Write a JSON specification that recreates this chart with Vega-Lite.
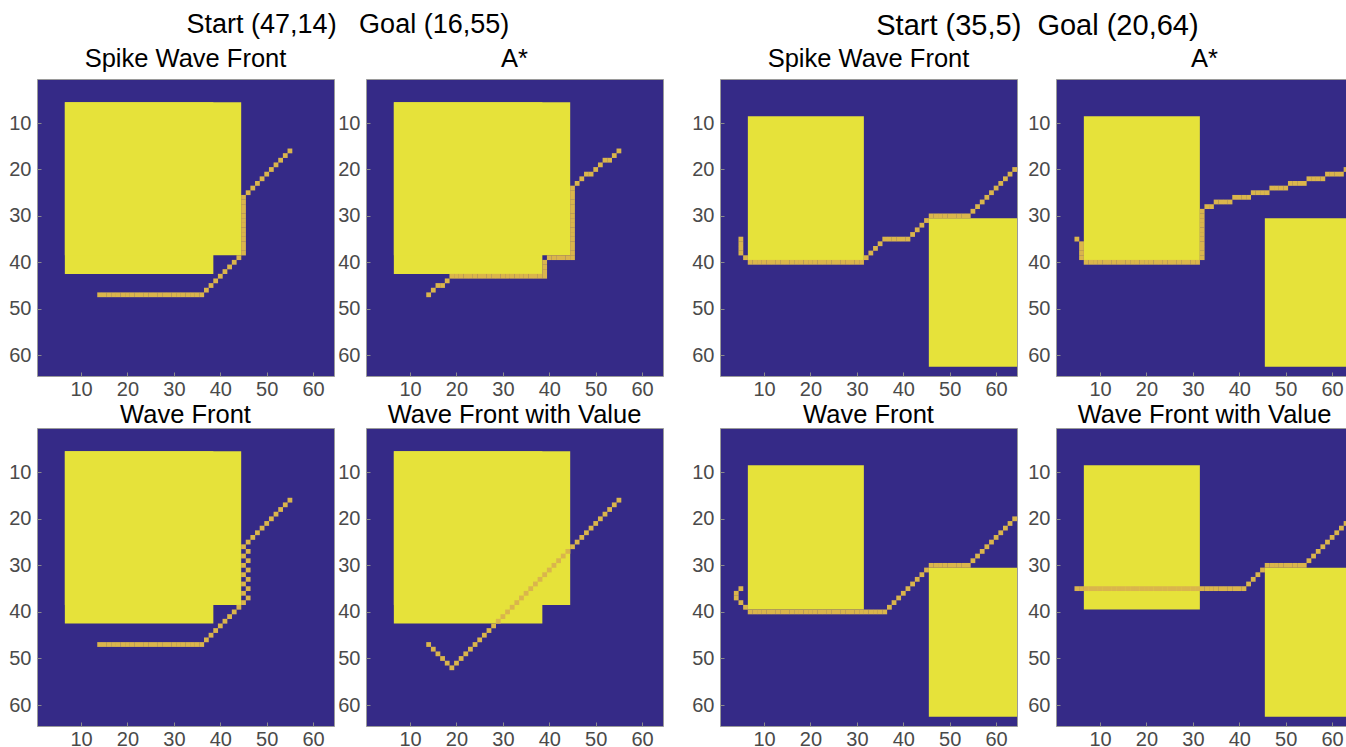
{
  "$schema": "https://vega.github.io/schema/vega-lite/v6.json",
  "padding": {"left": 8, "top": 11, "right": 0, "bottom": 0},
  "background": "white",
  "config": {
    "font": "Liberation Sans",
    "view": {"fill": "#352a87", "stroke": "#9a9a9a", "strokeWidth": 1},
    "axis": {"labelFont": "Liberation Sans", "labelFontSize": 20, "labelColor": "#4a4a4a", "domain": false, "grid": false, "ticks": true, "tickSize": -4, "tickColor": "#8a8a8a", "labelPadding": 10, "labelFlush": false},
    "axisX": {"labelPadding": 7},
    "title": {"font": "Liberation Sans", "fontSize": 25.5, "fontWeight": "normal", "color": "#000000"}
  },
  "datasets": {
    "obst": [
      {"p": "L1", "x0": 6.5, "x1": 38.5, "y0": 5.5, "y1": 42.5},
      {"p": "L1", "x0": 6.5, "x1": 44.5, "y0": 5.5, "y1": 38.5},
      {"p": "L2", "x0": 6.5, "x1": 38.5, "y0": 5.5, "y1": 42.5},
      {"p": "L2", "x0": 6.5, "x1": 44.5, "y0": 5.5, "y1": 38.5},
      {"p": "L3", "x0": 6.5, "x1": 38.5, "y0": 5.5, "y1": 42.5},
      {"p": "L3", "x0": 6.5, "x1": 44.5, "y0": 5.5, "y1": 38.5},
      {"p": "L4", "x0": 6.5, "x1": 38.5, "y0": 5.5, "y1": 42.5},
      {"p": "L4", "x0": 6.5, "x1": 44.5, "y0": 5.5, "y1": 38.5},
      {"p": "R1", "x0": 6.5, "x1": 31.5, "y0": 8.5, "y1": 39.5},
      {"p": "R1", "x0": 45.5, "x1": 64.5, "y0": 30.5, "y1": 62.5},
      {"p": "R2", "x0": 6.5, "x1": 31.5, "y0": 8.5, "y1": 39.5},
      {"p": "R2", "x0": 45.5, "x1": 64.5, "y0": 30.5, "y1": 62.5},
      {"p": "R3", "x0": 6.5, "x1": 31.5, "y0": 8.5, "y1": 39.5},
      {"p": "R3", "x0": 45.5, "x1": 64.5, "y0": 30.5, "y1": 62.5},
      {"p": "R4", "x0": 6.5, "x1": 31.5, "y0": 8.5, "y1": 39.5},
      {"p": "R4", "x0": 45.5, "x1": 64.5, "y0": 30.5, "y1": 62.5}
    ],
    "path": [
      {"p":"L1","r":47,"c":14},{"p":"L1","r":47,"c":15},{"p":"L1","r":47,"c":16},{"p":"L1","r":47,"c":17},{"p":"L1","r":47,"c":18},{"p":"L1","r":47,"c":19},{"p":"L1","r":47,"c":20},{"p":"L1","r":47,"c":21},{"p":"L1","r":47,"c":22},{"p":"L1","r":47,"c":23},{"p":"L1","r":47,"c":24},{"p":"L1","r":47,"c":25},{"p":"L1","r":47,"c":26},{"p":"L1","r":47,"c":27},{"p":"L1","r":47,"c":28},{"p":"L1","r":47,"c":29},{"p":"L1","r":47,"c":30},{"p":"L1","r":47,"c":31},{"p":"L1","r":47,"c":32},{"p":"L1","r":47,"c":33},{"p":"L1","r":47,"c":34},{"p":"L1","r":47,"c":35},{"p":"L1","r":47,"c":36},
      {"p":"L1","r":46,"c":37},{"p":"L1","r":45,"c":38},{"p":"L1","r":44,"c":39},{"p":"L1","r":43,"c":40},{"p":"L1","r":42,"c":41},{"p":"L1","r":41,"c":42},{"p":"L1","r":40,"c":43},{"p":"L1","r":39,"c":44},
      {"p":"L1","r":38,"c":45},{"p":"L1","r":37,"c":45},{"p":"L1","r":36,"c":45},{"p":"L1","r":35,"c":45},{"p":"L1","r":34,"c":45},{"p":"L1","r":33,"c":45},{"p":"L1","r":32,"c":45},{"p":"L1","r":31,"c":45},{"p":"L1","r":30,"c":45},{"p":"L1","r":29,"c":45},{"p":"L1","r":28,"c":45},{"p":"L1","r":27,"c":45},{"p":"L1","r":26,"c":45},
      {"p":"L1","r":25,"c":46},{"p":"L1","r":24,"c":47},{"p":"L1","r":23,"c":48},{"p":"L1","r":22,"c":49},{"p":"L1","r":21,"c":50},{"p":"L1","r":20,"c":51},{"p":"L1","r":19,"c":52},{"p":"L1","r":18,"c":53},{"p":"L1","r":17,"c":54},{"p":"L1","r":16,"c":55},

      {"p":"L2","r":47,"c":14},{"p":"L2","r":46,"c":15},{"p":"L2","r":45,"c":16},{"p":"L2","r":45,"c":17},{"p":"L2","r":44,"c":18},
      {"p":"L2","r":43,"c":19},{"p":"L2","r":43,"c":20},{"p":"L2","r":43,"c":21},{"p":"L2","r":43,"c":22},{"p":"L2","r":43,"c":23},{"p":"L2","r":43,"c":24},{"p":"L2","r":43,"c":25},{"p":"L2","r":43,"c":26},{"p":"L2","r":43,"c":27},{"p":"L2","r":43,"c":28},{"p":"L2","r":43,"c":29},{"p":"L2","r":43,"c":30},{"p":"L2","r":43,"c":31},{"p":"L2","r":43,"c":32},{"p":"L2","r":43,"c":33},{"p":"L2","r":43,"c":34},{"p":"L2","r":43,"c":35},{"p":"L2","r":43,"c":36},{"p":"L2","r":43,"c":37},{"p":"L2","r":43,"c":38},
      {"p":"L2","r":43,"c":39},{"p":"L2","r":42,"c":39},{"p":"L2","r":41,"c":39},{"p":"L2","r":40,"c":39},
      {"p":"L2","r":39,"c":40},{"p":"L2","r":39,"c":41},{"p":"L2","r":39,"c":42},{"p":"L2","r":39,"c":43},{"p":"L2","r":39,"c":44},
      {"p":"L2","r":39,"c":45},{"p":"L2","r":38,"c":45},{"p":"L2","r":37,"c":45},{"p":"L2","r":36,"c":45},{"p":"L2","r":35,"c":45},{"p":"L2","r":34,"c":45},{"p":"L2","r":33,"c":45},{"p":"L2","r":32,"c":45},{"p":"L2","r":31,"c":45},{"p":"L2","r":30,"c":45},{"p":"L2","r":29,"c":45},{"p":"L2","r":28,"c":45},{"p":"L2","r":27,"c":45},{"p":"L2","r":26,"c":45},{"p":"L2","r":25,"c":45},{"p":"L2","r":24,"c":45},
      {"p":"L2","r":23,"c":46},{"p":"L2","r":22,"c":47},{"p":"L2","r":21,"c":48},{"p":"L2","r":21,"c":49},{"p":"L2","r":20,"c":50},{"p":"L2","r":19,"c":51},{"p":"L2","r":18,"c":52},{"p":"L2","r":18,"c":53},{"p":"L2","r":17,"c":54},{"p":"L2","r":16,"c":55},

      {"p":"L3","r":47,"c":14},{"p":"L3","r":47,"c":15},{"p":"L3","r":47,"c":16},{"p":"L3","r":47,"c":17},{"p":"L3","r":47,"c":18},{"p":"L3","r":47,"c":19},{"p":"L3","r":47,"c":20},{"p":"L3","r":47,"c":21},{"p":"L3","r":47,"c":22},{"p":"L3","r":47,"c":23},{"p":"L3","r":47,"c":24},{"p":"L3","r":47,"c":25},{"p":"L3","r":47,"c":26},{"p":"L3","r":47,"c":27},{"p":"L3","r":47,"c":28},{"p":"L3","r":47,"c":29},{"p":"L3","r":47,"c":30},{"p":"L3","r":47,"c":31},{"p":"L3","r":47,"c":32},{"p":"L3","r":47,"c":33},{"p":"L3","r":47,"c":34},{"p":"L3","r":47,"c":35},{"p":"L3","r":47,"c":36},
      {"p":"L3","r":46,"c":37},{"p":"L3","r":45,"c":38},{"p":"L3","r":44,"c":39},{"p":"L3","r":43,"c":40},{"p":"L3","r":42,"c":41},{"p":"L3","r":41,"c":42},{"p":"L3","r":40,"c":43},{"p":"L3","r":39,"c":44},
      {"p":"L3","r":38,"c":45},{"p":"L3","r":37,"c":46},{"p":"L3","r":36,"c":45},{"p":"L3","r":35,"c":46},{"p":"L3","r":34,"c":45},{"p":"L3","r":33,"c":46},{"p":"L3","r":32,"c":45},{"p":"L3","r":31,"c":46},{"p":"L3","r":30,"c":45},{"p":"L3","r":29,"c":46},{"p":"L3","r":28,"c":45},{"p":"L3","r":27,"c":46},{"p":"L3","r":26,"c":45},
      {"p":"L3","r":25,"c":46},{"p":"L3","r":24,"c":47},{"p":"L3","r":23,"c":48},{"p":"L3","r":22,"c":49},{"p":"L3","r":21,"c":50},{"p":"L3","r":20,"c":51},{"p":"L3","r":19,"c":52},{"p":"L3","r":18,"c":53},{"p":"L3","r":17,"c":54},{"p":"L3","r":16,"c":55},

      {"p":"L4","r":47,"c":14},{"p":"L4","r":48,"c":15},{"p":"L4","r":49,"c":16},{"p":"L4","r":50,"c":17},{"p":"L4","r":51,"c":18},{"p":"L4","r":52,"c":19},
      {"p":"L4","r":51,"c":20},{"p":"L4","r":50,"c":21},{"p":"L4","r":49,"c":22},{"p":"L4","r":48,"c":23},{"p":"L4","r":47,"c":24},{"p":"L4","r":46,"c":25},{"p":"L4","r":45,"c":26},{"p":"L4","r":44,"c":27},{"p":"L4","r":43,"c":28},{"p":"L4","r":42,"c":29},{"p":"L4","r":41,"c":30},{"p":"L4","r":40,"c":31},{"p":"L4","r":39,"c":32},{"p":"L4","r":38,"c":33},{"p":"L4","r":37,"c":34},{"p":"L4","r":36,"c":35},{"p":"L4","r":35,"c":36},{"p":"L4","r":34,"c":37},{"p":"L4","r":33,"c":38},{"p":"L4","r":32,"c":39},{"p":"L4","r":31,"c":40},{"p":"L4","r":30,"c":41},{"p":"L4","r":29,"c":42},{"p":"L4","r":28,"c":43},{"p":"L4","r":27,"c":44},{"p":"L4","r":26,"c":45},{"p":"L4","r":25,"c":46},{"p":"L4","r":24,"c":47},{"p":"L4","r":23,"c":48},{"p":"L4","r":22,"c":49},{"p":"L4","r":21,"c":50},{"p":"L4","r":20,"c":51},{"p":"L4","r":19,"c":52},{"p":"L4","r":18,"c":53},{"p":"L4","r":17,"c":54},{"p":"L4","r":16,"c":55},

      {"p":"R1","r":35,"c":5},{"p":"R1","r":36,"c":5},{"p":"R1","r":37,"c":5},{"p":"R1","r":38,"c":5},{"p":"R1","r":39,"c":6},
      {"p":"R1","r":40,"c":7},{"p":"R1","r":40,"c":8},{"p":"R1","r":40,"c":9},{"p":"R1","r":40,"c":10},{"p":"R1","r":40,"c":11},{"p":"R1","r":40,"c":12},{"p":"R1","r":40,"c":13},{"p":"R1","r":40,"c":14},{"p":"R1","r":40,"c":15},{"p":"R1","r":40,"c":16},{"p":"R1","r":40,"c":17},{"p":"R1","r":40,"c":18},{"p":"R1","r":40,"c":19},{"p":"R1","r":40,"c":20},{"p":"R1","r":40,"c":21},{"p":"R1","r":40,"c":22},{"p":"R1","r":40,"c":23},{"p":"R1","r":40,"c":24},{"p":"R1","r":40,"c":25},{"p":"R1","r":40,"c":26},{"p":"R1","r":40,"c":27},{"p":"R1","r":40,"c":28},{"p":"R1","r":40,"c":29},{"p":"R1","r":40,"c":30},{"p":"R1","r":40,"c":31},
      {"p":"R1","r":39,"c":32},{"p":"R1","r":38,"c":33},{"p":"R1","r":37,"c":34},{"p":"R1","r":36,"c":35},
      {"p":"R1","r":35,"c":36},{"p":"R1","r":35,"c":37},{"p":"R1","r":35,"c":38},{"p":"R1","r":35,"c":39},{"p":"R1","r":35,"c":40},{"p":"R1","r":35,"c":41},
      {"p":"R1","r":34,"c":42},{"p":"R1","r":33,"c":43},{"p":"R1","r":32,"c":44},{"p":"R1","r":31,"c":45},
      {"p":"R1","r":30,"c":46},{"p":"R1","r":30,"c":47},{"p":"R1","r":30,"c":48},{"p":"R1","r":30,"c":49},{"p":"R1","r":30,"c":50},{"p":"R1","r":30,"c":51},{"p":"R1","r":30,"c":52},{"p":"R1","r":30,"c":53},{"p":"R1","r":30,"c":54},
      {"p":"R1","r":29,"c":55},{"p":"R1","r":28,"c":56},{"p":"R1","r":27,"c":57},{"p":"R1","r":26,"c":58},{"p":"R1","r":25,"c":59},{"p":"R1","r":24,"c":60},{"p":"R1","r":23,"c":61},{"p":"R1","r":22,"c":62},{"p":"R1","r":21,"c":63},{"p":"R1","r":20,"c":64},

      {"p":"R2","r":35,"c":5},{"p":"R2","r":36,"c":6},{"p":"R2","r":37,"c":6},{"p":"R2","r":38,"c":6},{"p":"R2","r":39,"c":6},
      {"p":"R2","r":40,"c":7},{"p":"R2","r":40,"c":8},{"p":"R2","r":40,"c":9},{"p":"R2","r":40,"c":10},{"p":"R2","r":40,"c":11},{"p":"R2","r":40,"c":12},{"p":"R2","r":40,"c":13},{"p":"R2","r":40,"c":14},{"p":"R2","r":40,"c":15},{"p":"R2","r":40,"c":16},{"p":"R2","r":40,"c":17},{"p":"R2","r":40,"c":18},{"p":"R2","r":40,"c":19},{"p":"R2","r":40,"c":20},{"p":"R2","r":40,"c":21},{"p":"R2","r":40,"c":22},{"p":"R2","r":40,"c":23},{"p":"R2","r":40,"c":24},{"p":"R2","r":40,"c":25},{"p":"R2","r":40,"c":26},{"p":"R2","r":40,"c":27},{"p":"R2","r":40,"c":28},{"p":"R2","r":40,"c":29},{"p":"R2","r":40,"c":30},{"p":"R2","r":40,"c":31},
      {"p":"R2","r":39,"c":32},{"p":"R2","r":38,"c":32},{"p":"R2","r":37,"c":32},{"p":"R2","r":36,"c":32},{"p":"R2","r":35,"c":32},{"p":"R2","r":34,"c":32},{"p":"R2","r":33,"c":32},{"p":"R2","r":32,"c":32},{"p":"R2","r":31,"c":32},{"p":"R2","r":30,"c":32},{"p":"R2","r":29,"c":32},
      {"p":"R2","r":28,"c":33},{"p":"R2","r":28,"c":34},
      {"p":"R2","r":27,"c":35},{"p":"R2","r":27,"c":36},{"p":"R2","r":27,"c":37},{"p":"R2","r":27,"c":38},
      {"p":"R2","r":26,"c":39},{"p":"R2","r":26,"c":40},{"p":"R2","r":26,"c":41},{"p":"R2","r":26,"c":42},
      {"p":"R2","r":25,"c":43},{"p":"R2","r":25,"c":44},{"p":"R2","r":25,"c":45},{"p":"R2","r":25,"c":46},
      {"p":"R2","r":24,"c":47},{"p":"R2","r":24,"c":48},{"p":"R2","r":24,"c":49},{"p":"R2","r":24,"c":50},
      {"p":"R2","r":23,"c":51},{"p":"R2","r":23,"c":52},{"p":"R2","r":23,"c":53},{"p":"R2","r":23,"c":54},
      {"p":"R2","r":22,"c":55},{"p":"R2","r":22,"c":56},{"p":"R2","r":22,"c":57},{"p":"R2","r":22,"c":58},
      {"p":"R2","r":21,"c":59},{"p":"R2","r":21,"c":60},{"p":"R2","r":21,"c":61},{"p":"R2","r":21,"c":62},
      {"p":"R2","r":20,"c":63},{"p":"R2","r":20,"c":64},

      {"p":"R3","r":35,"c":5},{"p":"R3","r":36,"c":4},{"p":"R3","r":37,"c":4},{"p":"R3","r":38,"c":5},{"p":"R3","r":39,"c":6},
      {"p":"R3","r":40,"c":7},{"p":"R3","r":40,"c":8},{"p":"R3","r":40,"c":9},{"p":"R3","r":40,"c":10},{"p":"R3","r":40,"c":11},{"p":"R3","r":40,"c":12},{"p":"R3","r":40,"c":13},{"p":"R3","r":40,"c":14},{"p":"R3","r":40,"c":15},{"p":"R3","r":40,"c":16},{"p":"R3","r":40,"c":17},{"p":"R3","r":40,"c":18},{"p":"R3","r":40,"c":19},{"p":"R3","r":40,"c":20},{"p":"R3","r":40,"c":21},{"p":"R3","r":40,"c":22},{"p":"R3","r":40,"c":23},{"p":"R3","r":40,"c":24},{"p":"R3","r":40,"c":25},{"p":"R3","r":40,"c":26},{"p":"R3","r":40,"c":27},{"p":"R3","r":40,"c":28},{"p":"R3","r":40,"c":29},{"p":"R3","r":40,"c":30},{"p":"R3","r":40,"c":31},{"p":"R3","r":40,"c":32},{"p":"R3","r":40,"c":33},{"p":"R3","r":40,"c":34},{"p":"R3","r":40,"c":35},{"p":"R3","r":40,"c":36},
      {"p":"R3","r":39,"c":37},{"p":"R3","r":38,"c":38},{"p":"R3","r":37,"c":39},{"p":"R3","r":36,"c":40},{"p":"R3","r":35,"c":41},{"p":"R3","r":34,"c":42},{"p":"R3","r":33,"c":43},{"p":"R3","r":32,"c":44},{"p":"R3","r":31,"c":45},
      {"p":"R3","r":30,"c":46},{"p":"R3","r":30,"c":47},{"p":"R3","r":30,"c":48},{"p":"R3","r":30,"c":49},{"p":"R3","r":30,"c":50},{"p":"R3","r":30,"c":51},{"p":"R3","r":30,"c":52},{"p":"R3","r":30,"c":53},{"p":"R3","r":30,"c":54},
      {"p":"R3","r":29,"c":55},{"p":"R3","r":28,"c":56},{"p":"R3","r":27,"c":57},{"p":"R3","r":26,"c":58},{"p":"R3","r":25,"c":59},{"p":"R3","r":24,"c":60},{"p":"R3","r":23,"c":61},{"p":"R3","r":22,"c":62},{"p":"R3","r":21,"c":63},{"p":"R3","r":20,"c":64},

      {"p":"R4","r":35,"c":5},{"p":"R4","r":35,"c":6},{"p":"R4","r":35,"c":7},{"p":"R4","r":35,"c":8},{"p":"R4","r":35,"c":9},{"p":"R4","r":35,"c":10},{"p":"R4","r":35,"c":11},{"p":"R4","r":35,"c":12},{"p":"R4","r":35,"c":13},{"p":"R4","r":35,"c":14},{"p":"R4","r":35,"c":15},{"p":"R4","r":35,"c":16},{"p":"R4","r":35,"c":17},{"p":"R4","r":35,"c":18},{"p":"R4","r":35,"c":19},{"p":"R4","r":35,"c":20},{"p":"R4","r":35,"c":21},{"p":"R4","r":35,"c":22},{"p":"R4","r":35,"c":23},{"p":"R4","r":35,"c":24},{"p":"R4","r":35,"c":25},{"p":"R4","r":35,"c":26},{"p":"R4","r":35,"c":27},{"p":"R4","r":35,"c":28},{"p":"R4","r":35,"c":29},{"p":"R4","r":35,"c":30},{"p":"R4","r":35,"c":31},{"p":"R4","r":35,"c":32},{"p":"R4","r":35,"c":33},{"p":"R4","r":35,"c":34},{"p":"R4","r":35,"c":35},{"p":"R4","r":35,"c":36},{"p":"R4","r":35,"c":37},{"p":"R4","r":35,"c":38},{"p":"R4","r":35,"c":39},{"p":"R4","r":35,"c":40},{"p":"R4","r":35,"c":41},
      {"p":"R4","r":34,"c":42},{"p":"R4","r":33,"c":43},{"p":"R4","r":32,"c":44},{"p":"R4","r":31,"c":45},
      {"p":"R4","r":30,"c":46},{"p":"R4","r":30,"c":47},{"p":"R4","r":30,"c":48},{"p":"R4","r":30,"c":49},{"p":"R4","r":30,"c":50},{"p":"R4","r":30,"c":51},{"p":"R4","r":30,"c":52},{"p":"R4","r":30,"c":53},{"p":"R4","r":30,"c":54},
      {"p":"R4","r":29,"c":55},{"p":"R4","r":28,"c":56},{"p":"R4","r":27,"c":57},{"p":"R4","r":26,"c":58},{"p":"R4","r":25,"c":59},{"p":"R4","r":24,"c":60},{"p":"R4","r":23,"c":61},{"p":"R4","r":22,"c":62},{"p":"R4","r":21,"c":63},{"p":"R4","r":20,"c":64}
    ]
  },
  "spacing": 27,
  "hconcat": [
    {
      "title": {"text": "Start (47,14)\u00a0\u00a0 Goal (16,55)", "fontSize": 27, "offset": 7, "anchor": "middle", "frame": "bounds", "dx": 12},
      "spacing": 2,
      "vconcat": [
        {"spacing": 2, "hconcat": [
          {"title": {"text": "Spike Wave Front", "offset": 7}, "width": 297, "height": 297, "layer": [
            {"data": {"name": "obst"}, "transform": [{"filter": "datum.p == 'L1'"}], "mark": {"type": "rect", "color": "#e6e23a"},
             "encoding": {"x": {"field": "x0", "type": "quantitative", "scale": {"domain": [0.5, 64.5], "nice": false, "zero": false}, "axis": {"title": null, "values": [10,20,30,40,50,60]}}, "x2": {"field": "x1"},
                          "y": {"field": "y0", "type": "quantitative", "scale": {"domain": [0.5, 64.5], "nice": false, "zero": false, "reverse": true}, "axis": {"title": null, "values": [10,20,30,40,50,60]}}, "y2": {"field": "y1"}}},
            {"data": {"name": "path"}, "transform": [{"filter": "datum.p == 'L1'"}], "mark": {"type": "square", "size": 23, "color": "#dab54c", "opacity": 1},
             "encoding": {"x": {"field": "c", "type": "quantitative", "axis": {"title": null, "values": [10,20,30,40,50,60]}}, "y": {"field": "r", "type": "quantitative", "axis": {"title": null, "values": [10,20,30,40,50,60]}}}}
          ]},
          {"title": {"text": "A*", "offset": 7}, "width": 297, "height": 297, "layer": [
            {"data": {"name": "obst"}, "transform": [{"filter": "datum.p == 'L2'"}], "mark": {"type": "rect", "color": "#e6e23a"},
             "encoding": {"x": {"field": "x0", "type": "quantitative", "scale": {"domain": [0.5, 64.5], "nice": false, "zero": false}, "axis": {"title": null, "values": [10,20,30,40,50,60]}}, "x2": {"field": "x1"},
                          "y": {"field": "y0", "type": "quantitative", "scale": {"domain": [0.5, 64.5], "nice": false, "zero": false, "reverse": true}, "axis": {"title": null, "values": [10,20,30,40,50,60]}}, "y2": {"field": "y1"}}},
            {"data": {"name": "path"}, "transform": [{"filter": "datum.p == 'L2'"}], "mark": {"type": "square", "size": 23, "color": "#dab54c", "opacity": 1},
             "encoding": {"x": {"field": "c", "type": "quantitative", "axis": {"title": null, "values": [10,20,30,40,50,60]}}, "y": {"field": "r", "type": "quantitative", "axis": {"title": null, "values": [10,20,30,40,50,60]}}}}
          ]}
        ]},
        {"spacing": 2, "hconcat": [
          {"title": {"text": "Wave Front", "offset": 0}, "width": 297, "height": 298, "layer": [
            {"data": {"name": "obst"}, "transform": [{"filter": "datum.p == 'L3'"}], "mark": {"type": "rect", "color": "#e6e23a"},
             "encoding": {"x": {"field": "x0", "type": "quantitative", "scale": {"domain": [0.5, 64.5], "nice": false, "zero": false}, "axis": {"title": null, "values": [10,20,30,40,50,60]}}, "x2": {"field": "x1"},
                          "y": {"field": "y0", "type": "quantitative", "scale": {"domain": [0.5, 64.5], "nice": false, "zero": false, "reverse": true}, "axis": {"title": null, "values": [10,20,30,40,50,60]}}, "y2": {"field": "y1"}}},
            {"data": {"name": "path"}, "transform": [{"filter": "datum.p == 'L3'"}], "mark": {"type": "square", "size": 23, "color": "#dab54c", "opacity": 1},
             "encoding": {"x": {"field": "c", "type": "quantitative", "axis": {"title": null, "values": [10,20,30,40,50,60]}}, "y": {"field": "r", "type": "quantitative", "axis": {"title": null, "values": [10,20,30,40,50,60]}}}}
          ]},
          {"title": {"text": "Wave Front with Value", "offset": 0}, "width": 297, "height": 298, "layer": [
            {"data": {"name": "obst"}, "transform": [{"filter": "datum.p == 'L4'"}], "mark": {"type": "rect", "color": "#e6e23a"},
             "encoding": {"x": {"field": "x0", "type": "quantitative", "scale": {"domain": [0.5, 64.5], "nice": false, "zero": false}, "axis": {"title": null, "values": [10,20,30,40,50,60]}}, "x2": {"field": "x1"},
                          "y": {"field": "y0", "type": "quantitative", "scale": {"domain": [0.5, 64.5], "nice": false, "zero": false, "reverse": true}, "axis": {"title": null, "values": [10,20,30,40,50,60]}}, "y2": {"field": "y1"}}},
            {"data": {"name": "path"}, "transform": [{"filter": "datum.p == 'L4'"}], "mark": {"type": "square", "size": 23, "color": "#dab54c", "opacity": 1},
             "encoding": {"x": {"field": "c", "type": "quantitative", "axis": {"title": null, "values": [10,20,30,40,50,60]}}, "y": {"field": "r", "type": "quantitative", "axis": {"title": null, "values": [10,20,30,40,50,60]}}}}
          ]}
        ]}
      ]
    },
    {
      "title": {"text": "Start (35,5)\u00a0 Goal (20,64)", "fontSize": 29, "offset": 5, "anchor": "middle", "frame": "bounds", "dx": 15},
      "spacing": 2,
      "vconcat": [
        {"spacing": 9, "hconcat": [
          {"title": {"text": "Spike Wave Front", "offset": 7}, "width": 297, "height": 297, "layer": [
            {"data": {"name": "obst"}, "transform": [{"filter": "datum.p == 'R1'"}], "mark": {"type": "rect", "color": "#e6e23a"},
             "encoding": {"x": {"field": "x0", "type": "quantitative", "scale": {"domain": [0.5, 64.5], "nice": false, "zero": false}, "axis": {"title": null, "values": [10,20,30,40,50,60]}}, "x2": {"field": "x1"},
                          "y": {"field": "y0", "type": "quantitative", "scale": {"domain": [0.5, 64.5], "nice": false, "zero": false, "reverse": true}, "axis": {"title": null, "values": [10,20,30,40,50,60]}}, "y2": {"field": "y1"}}},
            {"data": {"name": "path"}, "transform": [{"filter": "datum.p == 'R1'"}], "mark": {"type": "square", "size": 23, "color": "#dab54c", "opacity": 1},
             "encoding": {"x": {"field": "c", "type": "quantitative", "axis": {"title": null, "values": [10,20,30,40,50,60]}}, "y": {"field": "r", "type": "quantitative", "axis": {"title": null, "values": [10,20,30,40,50,60]}}}}
          ]},
          {"title": {"text": "A*", "offset": 7}, "width": 297, "height": 297, "layer": [
            {"data": {"name": "obst"}, "transform": [{"filter": "datum.p == 'R2'"}], "mark": {"type": "rect", "color": "#e6e23a"},
             "encoding": {"x": {"field": "x0", "type": "quantitative", "scale": {"domain": [0.5, 64.5], "nice": false, "zero": false}, "axis": {"title": null, "values": [10,20,30,40,50,60]}}, "x2": {"field": "x1"},
                          "y": {"field": "y0", "type": "quantitative", "scale": {"domain": [0.5, 64.5], "nice": false, "zero": false, "reverse": true}, "axis": {"title": null, "values": [10,20,30,40,50,60]}}, "y2": {"field": "y1"}}},
            {"data": {"name": "path"}, "transform": [{"filter": "datum.p == 'R2'"}], "mark": {"type": "square", "size": 23, "color": "#dab54c", "opacity": 1},
             "encoding": {"x": {"field": "c", "type": "quantitative", "axis": {"title": null, "values": [10,20,30,40,50,60]}}, "y": {"field": "r", "type": "quantitative", "axis": {"title": null, "values": [10,20,30,40,50,60]}}}}
          ]}
        ]},
        {"spacing": 9, "hconcat": [
          {"title": {"text": "Wave Front", "offset": 0}, "width": 297, "height": 298, "layer": [
            {"data": {"name": "obst"}, "transform": [{"filter": "datum.p == 'R3'"}], "mark": {"type": "rect", "color": "#e6e23a"},
             "encoding": {"x": {"field": "x0", "type": "quantitative", "scale": {"domain": [0.5, 64.5], "nice": false, "zero": false}, "axis": {"title": null, "values": [10,20,30,40,50,60]}}, "x2": {"field": "x1"},
                          "y": {"field": "y0", "type": "quantitative", "scale": {"domain": [0.5, 64.5], "nice": false, "zero": false, "reverse": true}, "axis": {"title": null, "values": [10,20,30,40,50,60]}}, "y2": {"field": "y1"}}},
            {"data": {"name": "path"}, "transform": [{"filter": "datum.p == 'R3'"}], "mark": {"type": "square", "size": 23, "color": "#dab54c", "opacity": 1},
             "encoding": {"x": {"field": "c", "type": "quantitative", "axis": {"title": null, "values": [10,20,30,40,50,60]}}, "y": {"field": "r", "type": "quantitative", "axis": {"title": null, "values": [10,20,30,40,50,60]}}}}
          ]},
          {"title": {"text": "Wave Front with Value", "offset": 0}, "width": 297, "height": 298, "layer": [
            {"data": {"name": "obst"}, "transform": [{"filter": "datum.p == 'R4'"}], "mark": {"type": "rect", "color": "#e6e23a"},
             "encoding": {"x": {"field": "x0", "type": "quantitative", "scale": {"domain": [0.5, 64.5], "nice": false, "zero": false}, "axis": {"title": null, "values": [10,20,30,40,50,60]}}, "x2": {"field": "x1"},
                          "y": {"field": "y0", "type": "quantitative", "scale": {"domain": [0.5, 64.5], "nice": false, "zero": false, "reverse": true}, "axis": {"title": null, "values": [10,20,30,40,50,60]}}, "y2": {"field": "y1"}}},
            {"data": {"name": "path"}, "transform": [{"filter": "datum.p == 'R4'"}], "mark": {"type": "square", "size": 23, "color": "#dab54c", "opacity": 1},
             "encoding": {"x": {"field": "c", "type": "quantitative", "axis": {"title": null, "values": [10,20,30,40,50,60]}}, "y": {"field": "r", "type": "quantitative", "axis": {"title": null, "values": [10,20,30,40,50,60]}}}}
          ]}
        ]}
      ]
    }
  ]
}
